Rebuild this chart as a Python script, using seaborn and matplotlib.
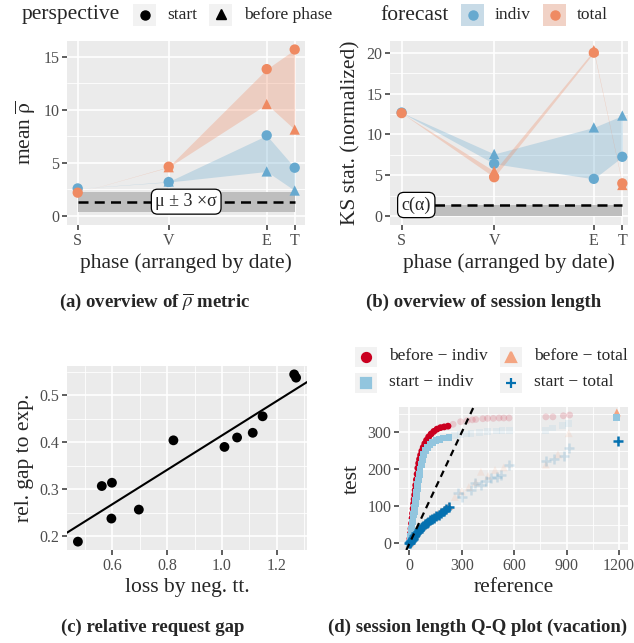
import numpy as np
import pandas as pd
import matplotlib
matplotlib.use("Agg")
import matplotlib.pyplot as plt
import seaborn as sns
from matplotlib.patches import Rectangle

# phases, as days since the first one
phase_labels = ["S", "V", "E", "T"]
phase_day = [0, 91, 189, 217]

# (a) mean rho-bar per phase
rho_start_indiv = [2.6, 3.2, 7.6, 4.55]
rho_before_indiv = [np.nan, 3.25, 4.2, 2.4]
rho_start_total = [2.2, 4.65, 13.85, 15.7]
rho_before_total = [np.nan, 4.6, 10.55, 8.15]
rho_band = [0.4, 2.3]
rho_thresh = 1.35

# (b) KS statistic per phase
ks_start_indiv = [12.67, 6.4, 4.55, 7.25]
ks_before_indiv = [np.nan, 7.6, 10.85, 12.3]
ks_start_total = [12.6, 4.75, 20.0, 4.0]
ks_before_total = [np.nan, 5.5, 20.3, 3.8]
ks_band = [0.0, 1.35]
ks_thresh = 1.35

# (c) relative request gap
loss_neg_tt = [0.475, 0.562, 0.599, 0.597, 0.697, 0.823, 1.009, 1.055, 1.112, 1.148, 1.263, 1.27]
rel_gap = [0.189, 0.307, 0.314, 0.238, 0.257, 0.404, 0.390, 0.410, 0.420, 0.455, 0.544, 0.537]

# (d) Q-Q quantiles (reference vs test)
bi_ref = [0, 3, 6, 9, 12, 15, 18, 21, 24, 27, 30, 33, 36, 40, 44, 48, 53, 58, 64, 71, 79, 88, 98, 110,
          124, 140, 158, 178, 199, 221, 250, 293, 330, 360, 380, 420, 447, 480, 513, 540, 570, 781,
          821, 881, 917, 1186]
bi_test = [0, 13, 27, 40, 54, 68, 81, 94, 107, 119, 131, 144, 157, 172, 187, 203, 216, 227, 238, 249,
           259, 269, 278, 287, 295, 302, 308, 312, 314, 316, 321, 328, 331, 333, 334, 336, 337, 337,
           338, 338, 338, 341, 341, 344, 346, 340]
si_ref = [0, 3, 6, 9, 12, 15, 18, 21, 24, 27, 30, 33, 36, 39, 42, 45, 48, 52, 56, 61, 67, 74, 82, 92,
          104, 118, 134, 152, 172, 194, 227, 260, 293, 330, 352, 400, 447, 500, 530, 574, 781, 819,
          877, 910, 1185]
si_test = [0, 10, 19, 29, 38, 48, 58, 68, 77, 87, 97, 107, 117, 127, 138, 148, 159, 171, 185, 199, 213,
           227, 240, 250, 258, 266, 272, 277, 281, 284, 286, 291, 294, 295, 296, 299, 302, 303, 304,
           304, 305, 311, 317, 324, 340]
bt_ref = [0, 4, 8, 13, 18, 24, 30, 37, 45, 54, 64, 75, 87, 100, 114, 129, 145, 162, 180, 200, 227,
          260, 300, 340, 380, 409, 450, 490, 540, 781, 850, 912, 1187]
bt_test = [0, 3, 6, 10, 14, 18, 22, 27, 32, 37, 42, 47, 52, 57, 62, 67, 72, 78, 85, 92, 101,
           125, 140, 152, 165, 193, 182, 198, 205, 212, 240, 297, 353]
st_ref = [0, 3, 6, 10, 14, 18, 23, 28, 34, 40, 47, 54, 62, 70, 79, 88, 98, 108, 119, 130, 142, 155,
          168, 182, 196, 211, 227, 276, 303, 352, 378, 409, 440, 466, 500, 523, 570, 779, 826, 883,
          915, 1192]
st_test = [0, 2, 4, 7, 10, 13, 16, 20, 24, 28, 32, 36, 40, 44, 48, 52, 55, 58, 62, 65, 69, 73, 78,
           83, 88, 93, 98, 135, 126, 144, 162, 158, 168, 176, 180, 185, 212, 221, 227, 236, 257, 276]

W, H = 634, 643
pal_ab = {"indiv": "#67A9CF", "total": "#EF8A62"}
RED, ORANGE, LBLUE, DBLUE = "#CA0020", "#F4A582", "#92C5DE", "#0571B0"

sns.set_theme(style="darkgrid")
plt.rcParams["font.family"] = ["Liberation Serif", "DejaVu Serif"]
plt.rcParams["mathtext.fontset"] = "stix"


def gg_axes(ax, xmajor, ymajor, xminor=None, yminor=None):
    ax.set_facecolor("#EBEBEB")
    for s in ax.spines.values():
        s.set_visible(False)
    ax.set_xticks(xmajor)
    ax.set_yticks(ymajor)
    ax.set_xticks(xminor if xminor is not None else [], minor=True)
    ax.set_yticks(yminor if yminor is not None else [], minor=True)
    ax.grid(which="major", color="white", lw=1.2)
    ax.grid(which="minor", color="white", lw=0.6)
    ax.set_axisbelow(True)
    ax.tick_params(which="minor", length=0)
    ax.tick_params(which="major", length=3.5, width=1.1, color="#333333",
                   labelcolor="#4D4D4D", labelsize=11.5, pad=2, bottom=True, left=True)


def px_rect(l, t, r, b):
    return [l / W, 1 - b / H, (r - l) / W, (b - t) / H]


def phase_panel(ax, si, bi, st, bt, band, thresh):
    rows = []
    for fc, s_vals, b_vals in (("indiv", si, bi), ("total", st, bt)):
        for day, s, b in zip(phase_day, s_vals, b_vals):
            rows.append({"day": day, "forecast": fc, "perspective": "start", "value": s})
            rows.append({"day": day, "forecast": fc, "perspective": "before phase", "value": b})
    df = pd.DataFrame(rows)

    ax.fill_between([phase_day[0], phase_day[-1]], band[0], band[1], color="#BEBEBE", lw=0, zorder=1)
    ax.plot([phase_day[0], phase_day[-1]], [thresh, thresh], color="black",
            ls=(0, (4, 2.5)), lw=1.8, zorder=2)
    for fc in ["indiv", "total"]:
        w = df[df.forecast == fc].pivot(index="day", columns="perspective", values="value")
        before = w["before phase"].fillna(w["start"])
        ax.fill_between(w.index, np.minimum(w["start"], before), np.maximum(w["start"], before),
                        color=pal_ab[fc], alpha=0.3, lw=0, zorder=3)
    sns.scatterplot(data=df.dropna(), x="day", y="value", hue="forecast", style="perspective",
                    style_order=["start", "before phase"], markers={"start": "o", "before phase": "^"},
                    palette=pal_ab, s=55, edgecolor="none", legend=False, ax=ax, zorder=4)
    gg_axes(ax, phase_day, [])
    ax.set_xticklabels(phase_labels)
    ax.set_xlabel("phase (arranged by date)", fontsize=15.5, labelpad=3)


fig = plt.figure(figsize=(W / 100, H / 100), dpi=100)

# (a)
ax_a = fig.add_axes(px_rect(67, 41, 305, 225))
phase_panel(ax_a, rho_start_indiv, rho_before_indiv, rho_start_total, rho_before_total, rho_band, rho_thresh)
ax_a.set_yticks([0, 5, 10, 15])
ax_a.set_yticks([2.5, 7.5, 12.5], minor=True)
ax_a.set_ylim(-0.85, 16.5)
ax_a.set_xlim(-10.7, 227.3)
ax_a.set_ylabel(r"mean $\overline{\mathrm{\rho}}$", fontsize=15.5, labelpad=4)
ax_a.text((phase_day[0] + phase_day[-1]) / 2, rho_thresh, "μ ± 3 ×σ", ha="center", va="center",
          fontsize=13, zorder=6,
          bbox=dict(boxstyle="round,pad=0.22,rounding_size=0.35", fc="white", ec="black", lw=0.9))

# (b)
ax_b = fig.add_axes(px_rect(390, 41, 628, 225))
phase_panel(ax_b, ks_start_indiv, ks_before_indiv, ks_start_total, ks_before_total, ks_band, ks_thresh)
ax_b.set_yticks([0, 5, 10, 15, 20])
ax_b.set_yticks([2.5, 7.5, 12.5, 17.5], minor=True)
ax_b.set_ylim(-1.1, 21.43)
ax_b.set_xlim(-11.4, 222.6)
ax_b.set_ylabel("KS stat. (normalized)", fontsize=15.5, labelpad=4)
ax_b.text(phase_day[0], ks_thresh, "c(α)", ha="left", va="center", fontsize=13, zorder=6,
          bbox=dict(boxstyle="round,pad=0.22,rounding_size=0.35", fc="white", ec="black", lw=0.9))

# (c)
ax_c = fig.add_axes(px_rect(67, 366, 307, 550))
lo, hi = min(loss_neg_tt), max(loss_neg_tt)
ax_c.set_xlim(lo - 0.05 * (hi - lo), hi + 0.05 * (hi - lo))
lo_y, hi_y = min(rel_gap), max(rel_gap)
ax_c.set_ylim(lo_y - 0.05 * (hi_y - lo_y), hi_y + 0.05 * (hi_y - lo_y))
sns.regplot(x=loss_neg_tt, y=rel_gap, ci=None, truncate=False, ax=ax_c,
            scatter_kws=dict(s=50, color="black", edgecolor="none", alpha=1, zorder=3),
            line_kws=dict(color="black", lw=1.5, zorder=2))
gg_axes(ax_c, [0.6, 0.8, 1.0, 1.2], [0.2, 0.3, 0.4, 0.5],
        [0.5, 0.7, 0.9, 1.1, 1.3], [0.25, 0.35, 0.45, 0.55])
ax_c.set_xticklabels(["0.6", "0.8", "1.0", "1.2"])
ax_c.set_yticklabels(["0.2", "0.3", "0.4", "0.5"])
ax_c.set_xlabel("loss by neg. tt.", fontsize=15.5, labelpad=3)
ax_c.set_ylabel("rel. gap to exp.", fontsize=15.5, labelpad=4)

# (d)
ax_d = fig.add_axes(px_rect(399, 407, 628, 550))
qq_series = [
    (bi_ref, bi_test, "o", RED, 24, 0),
    (bt_ref, bt_test, "^", ORANGE, 32, 0),
    (si_ref, si_test, "s", LBLUE, 24, 0),
    (st_ref, st_test, "+", DBLUE, 60, 1.8),
]
for ref, test, marker, color, size, lw in qq_series:
    ref = np.array(ref, dtype=float)
    test = np.array(test, dtype=float)
    solid = (ref <= 230) | (ref == ref.max())
    sns.scatterplot(x=ref[~solid], y=test[~solid], marker=marker, color=color, s=size,
                    linewidth=lw, edgecolor=color if lw else "none", alpha=0.15, ax=ax_d, zorder=3)
    sns.scatterplot(x=ref[solid], y=test[solid], marker=marker, color=color, s=size,
                    linewidth=lw, edgecolor=color if lw else "none", alpha=1, ax=ax_d, zorder=4)
ax_d.axline((0, 0), slope=1, color="black", ls=(0, (3, 2.2)), lw=1.6, zorder=5)
ax_d.set_xlim(-59.6, 1251)
ax_d.set_ylim(-17.6, 367.6)
gg_axes(ax_d, [0, 300, 600, 900, 1200], [0, 100, 200, 300], [150, 450, 750, 1050], [50, 150, 250, 350])
ax_d.set_xlabel("reference", fontsize=15.5, labelpad=3)
ax_d.set_ylabel("test", fontsize=15.5, labelpad=4)

# legends and captions, drawn in figure pixels
ov = fig.add_axes([0, 0, 1, 1], zorder=10)
ov.set_xlim(0, W)
ov.set_ylim(H, 0)
ov.axis("off")


def key_box(x0, y0, w, h, fill=None):
    ov.add_patch(Rectangle((x0, y0), w, h, fc="#F2F2F2", ec="none"))
    if fill is not None:
        ov.add_patch(Rectangle((x0, y0), w, h, fc=fill, alpha=0.3, ec="none"))


ov.text(22, 15, "perspective", fontsize=15.5, va="center", ha="left")
key_box(133, 4, 23, 22)
ov.plot(144.5, 15, "o", color="black", ms=6.5)
ov.text(167.5, 15, "start", fontsize=12.5, va="center", ha="left")
key_box(209, 4, 23, 22)
ov.plot(220.5, 14, "^", color="black", ms=7.5)
ov.text(244, 15, "before phase", fontsize=12.5, va="center", ha="left")

ov.text(380, 15, "forecast", fontsize=15.5, va="center", ha="left")
key_box(461, 4, 23, 22, pal_ab["indiv"])
ov.plot(472.5, 15, "o", color=pal_ab["indiv"], ms=6.5)
ov.text(495, 15, "indiv", fontsize=12.5, va="center", ha="left")
key_box(543, 4, 23, 22, pal_ab["total"])
ov.plot(554.5, 15, "o", color=pal_ab["total"], ms=6.5)
ov.text(577, 15, "total", fontsize=12.5, va="center", ha="left")

qq_legend = [
    (355, 356.5, "o", RED, "before − indiv"),
    (500, 356.5, "^", ORANGE, "before − total"),
    (355, 382.5, "s", LBLUE, "start − indiv"),
    (500, 382.5, "+", DBLUE, "start − total"),
]
for x0, yc, marker, color, text in qq_legend:
    key_box(x0, yc - 10, 22, 20)
    ov.plot(x0 + 11, yc, marker, color=color, ms=6.5, mew=1.6)
    ov.text(x0 + 34, yc, text, fontsize=12.5, va="center", ha="left")

cap = dict(fontsize=13.5, fontweight="bold", ha="center", va="center")
ov.text(154.5, 302, r"(a) overview of $\overline{\rho}$ metric", **cap)
ov.text(484, 302, "(b) overview of session length", **cap)
ov.text(153, 627, "(c) relative request gap", **cap)
ov.text(478, 627, "(d) session length Q-Q plot (vacation)", **cap)

fig.savefig("out.png", dpi=100)
